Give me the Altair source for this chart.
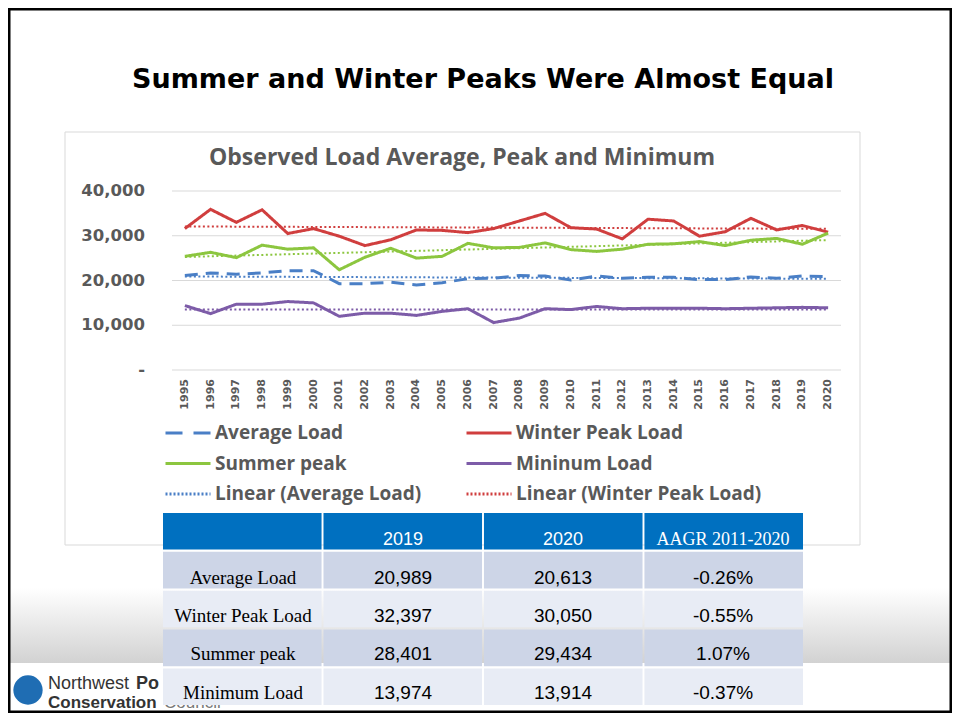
import altair as alt
import pandas as pd

# ---------------- data ----------------
years = list(range(1995, 2021))
average_load = [21100, 21700, 21400, 21700, 22200, 22200, 19300, 19300, 19600, 19000,
                19500, 20400, 20500, 21100, 21000, 20100, 21000, 20500, 20700, 20700,
                20200, 20200, 20800, 20500, 21000, 20900]
winter_peak = [31600, 35900, 33000, 35800, 30500, 31600, 29900, 27800, 29100, 31300,
               31200, 30700, 31600, 33300, 35000, 31800, 31500, 29300, 33700, 33300,
               29900, 30900, 33900, 31300, 32300, 30800]
summer_peak = [25400, 26300, 25100, 27900, 27000, 27300, 22400, 25200, 27200, 25000,
               25400, 28300, 27300, 27400, 28400, 26900, 26500, 27000, 28100, 28200,
               28700, 27800, 29000, 29400, 28100, 30600]
minimum_load = [14400, 12600, 14700, 14700, 15300, 15000, 12000, 12700, 12700, 12200,
                13100, 13700, 10600, 11600, 13700, 13500, 14200, 13700, 13800, 13800,
                13800, 13700, 13800, 13900, 14000, 13900]

series_names = ["Average Load", "Winter Peak Load", "Summer peak", "Mininum Load"]
series_colors = ["#4a7fc6", "#d03e3e", "#8cc63f", "#7d5ca8"]

y_ticks = [0, 10000, 20000, 30000, 40000]
y_tick_labels = ["-", "10,000", "20,000", "30,000", "40,000"]

legend_names = ["Average Load", "Winter Peak Load", "Summer peak", "Mininum Load",
                "Linear (Average Load)", "Linear (Winter Peak Load)"]
legend_colors = ["#4a7fc6", "#d03e3e", "#8cc63f", "#7d5ca8", "#4a7fc6", "#d03e3e"]

table_header = ["", "2019", "2020", "AAGR 2011-2020"]
table_rows = ["Average Load", "Winter Peak Load", "Summer peak", "Minimum Load"]
val_2019 = ["20,989", "32,397", "28,401", "13,974"]
val_2020 = ["20,613", "30,050", "29,434", "13,914"]
aagr = ["-0.26%", "-0.55%", "1.07%", "-0.37%"]

slide_title = "Summer and Winter Peaks Were Almost Equal"
chart_title = "Observed Load Average, Peak and Minimum"

# ---------------- frames ----------------
W, H = 944, 705
O = 8  # page margin: chart coord = page coord - 8

df = pd.DataFrame({
    "year": years * 4,
    "value": average_load + winter_peak + summer_peak + minimum_load,
    "series": sum([[s] * len(years) for s in series_names], []),
})

x_scale = alt.Scale(domain=[1994.5, 2020.5], range=[172 - O, 841 - O], nice=False, zero=False)
y_scale = alt.Scale(domain=[0, 40000], range=[370 - O, 191 - O], nice=False, zero=False)
col_scale = alt.Scale(domain=series_names, range=series_colors)
GREY = "#595959"

one = pd.DataFrame({"k": [0]})

frame = alt.Chart(one).mark_rect(fillOpacity=0, stroke="black", strokeWidth=3).encode(
    x=alt.value(1), x2=alt.value(W - 1), y=alt.value(1), y2=alt.value(H - 1))

band = alt.Chart(one).mark_rect(
    fill=alt.LinearGradient(gradient="linear",
                            stops=[alt.GradientStop(color="#ffffff", offset=0),
                                   alt.GradientStop(color="#d2d2d2", offset=1)],
                            x1=0, x2=0, y1=0, y2=1)
).encode(x=alt.value(0), x2=alt.value(W), y=alt.value(588 - O), y2=alt.value(663 - O))

box = alt.Chart(one).mark_rect(fill="white", stroke="#d9d9d9", strokeWidth=1).encode(
    x=alt.value(65 - O), x2=alt.value(860 - O), y=alt.value(132 - O), y2=alt.value(545 - O))

title1 = alt.Chart(pd.DataFrame({"t": [slide_title]})).mark_text(
    font="DejaVu Sans", fontWeight="bold", fontSize=27, color="black",
    align="center", baseline="middle").encode(
    x=alt.value(483 - O), y=alt.value(80 - O), text="t:N")

title2 = alt.Chart(pd.DataFrame({"t": [chart_title]})).mark_text(
    font="Open Sans", fontWeight="bold", fontSize=23, color=GREY,
    align="center", baseline="middle").encode(
    x=alt.value(462 - O), y=alt.value(158 - O), text="t:N")

grid_df = pd.DataFrame({"v": y_ticks, "lab": y_tick_labels})
grid = alt.Chart(grid_df).mark_rule(color="#d9d9d9", strokeWidth=1.2).encode(
    y=alt.Y("v:Q", scale=y_scale, axis=None),
    x=alt.X(datum=1994.5, type="quantitative", scale=x_scale, axis=None),
    x2=alt.X2(datum=2020.5))

ylabels = alt.Chart(grid_df).mark_text(
    font="DejaVu Sans", fontWeight="bold", fontSize=16.5, color=GREY,
    align="right", baseline="middle").encode(
    y=alt.Y("v:Q", scale=y_scale, axis=None), x=alt.value(145 - O), text="lab:N")

ydf = pd.DataFrame({"year": years, "lab": [str(y) for y in years]})
xlabels = alt.Chart(ydf).mark_text(
    font="DejaVu Sans", fontWeight="bold", fontSize=11, color=GREY,
    align="right", baseline="middle", angle=270).encode(
    x=alt.X("year:Q", scale=x_scale, axis=None), y=alt.value(379 - O), text="lab:N")

trend = alt.Chart(df).transform_regression(
    "year", "value", groupby=["series"]).mark_line(
    strokeWidth=2, strokeDash=[2, 2.5]).encode(
    x=alt.X("year:Q", scale=x_scale, axis=None),
    y=alt.Y("value:Q", scale=y_scale, axis=None),
    color=alt.Color("series:N", scale=col_scale, legend=None),
    detail="series:N")

lines = alt.Chart(df).mark_line(strokeWidth=3).encode(
    x=alt.X("year:Q", scale=x_scale, axis=None),
    y=alt.Y("value:Q", scale=y_scale, axis=None),
    color=alt.Color("series:N", scale=col_scale, legend=None),
    strokeDash=alt.StrokeDash("series:N", scale=alt.Scale(
        domain=series_names, range=[[13, 8], [1, 0], [1, 0], [1, 0]]), legend=None),
    detail="series:N")

# legend (manual)
leg_df = pd.DataFrame({"name": legend_names,
                       "col": [i % 2 for i in range(len(legend_names))],
                       "row": [i // 2 for i in range(len(legend_names))]})
lx = alt.X("col:Q", scale=alt.Scale(domain=[0, 1], range=[188 - O, 489 - O]), axis=None)
ly = alt.Y("row:Q", scale=alt.Scale(domain=[0, 2], range=[433 - O, 494 - O]), axis=None)
leg_sym = alt.Chart(leg_df).mark_point(shape="stroke", size=2025, filled=False, opacity=1).encode(
    x=lx, y=ly,
    color=alt.Color("name:N", scale=alt.Scale(domain=legend_names, range=legend_colors), legend=None),
    strokeDash=alt.StrokeDash("name:N", scale=alt.Scale(
        domain=legend_names, range=[[17, 11], [1, 0], [1, 0], [1, 0], [2, 2], [2, 2]]), legend=None),
    strokeWidth=alt.StrokeWidth("name:N", scale=alt.Scale(
        domain=legend_names, range=[3, 3, 3, 3, 1.5, 1.5]), legend=None))
leg_txt = alt.Chart(leg_df).mark_text(
    font="Open Sans", fontWeight="bold", fontSize=19, color=GREY,
    align="left", baseline="middle", dx=27).encode(x=lx, y=ly, text="name:N")

# logo
logo_c = alt.Chart(one).mark_point(shape="circle", filled=True, size=860, color="#1f6db3", opacity=1).encode(
    x=alt.value(28 - O), y=alt.value(690 - O))
logo_t1 = alt.Chart(pd.DataFrame({"t": ["Northwest"]})).mark_text(
    font="Liberation Sans", fontSize=18, color="#333333", align="left", baseline="middle").encode(
    x=alt.value(48 - O), y=alt.value(684 - O), text="t:N")
logo_t1b = alt.Chart(pd.DataFrame({"t": ["Power"]})).mark_text(
    font="Liberation Sans", fontWeight="bold", fontSize=18, color="#333333", align="left",
    baseline="middle", limit=30, ellipsis=" ").encode(
    x=alt.value(136 - O), y=alt.value(684 - O), text="t:N")
logo_t2 = alt.Chart(pd.DataFrame({"t": ["Conservation"]})).mark_text(
    font="Liberation Sans", fontWeight="bold", fontSize=17, color="#333333", align="left", baseline="middle").encode(
    x=alt.value(48 - O), y=alt.value(703 - O), text="t:N")
logo_t2b = alt.Chart(pd.DataFrame({"t": ["Council"]})).mark_text(
    font="Liberation Sans", fontSize=17, color="#777777", align="left", baseline="middle").encode(
    x=alt.value(164 - O), y=alt.value(703 - O), text="t:N")

# table
col_ids = ["c0", "c1", "c2", "c3"]
row_ids = ["h", "r1", "r2", "r3", "r4"]
cells = []
for j, h in enumerate(table_header):
    cells.append({"row": "h", "col": col_ids[j], "text": h, "kind": "head",
                  "serif": j == 3})
for i, name in enumerate(table_rows):
    kind = "dark" if i % 2 == 0 else "light"
    for j, t in enumerate([name, val_2019[i], val_2020[i], aagr[i]]):
        cells.append({"row": row_ids[i + 1], "col": col_ids[j], "text": t, "kind": kind,
                      "serif": j == 0})
cells = pd.DataFrame(cells)

tx = alt.X("col:N", scale=alt.Scale(domain=col_ids, range=[163 - O, 803 - O],
                                    paddingInner=0.012, paddingOuter=0), axis=None)
ty = alt.Y("row:N", scale=alt.Scale(domain=row_ids, range=[513 - O, 705 - O],
                                    paddingInner=0.06, paddingOuter=0), axis=None)
tbl = alt.Chart(cells).mark_rect().encode(
    x=tx, y=ty,
    color=alt.Color("kind:N", scale=alt.Scale(domain=["head", "dark", "light"],
                                              range=["#0070c0", "#cdd5e7", "#e8ecf5"]), legend=None))


def ttext(filt, font, size, color):
    return alt.Chart(cells).transform_filter(filt).mark_text(
        font=font, fontSize=size, color=color, align="center", baseline="bottom", dy=17).encode(
        x=tx, y=ty, text="text:N")


t_head_sans = ttext("datum.kind == 'head' && !datum.serif", "Liberation Sans", 18, "white")
t_head_serif = ttext("datum.kind == 'head' && datum.serif", "Liberation Serif", 18, "white")
t_body_sans = ttext("datum.kind != 'head' && !datum.serif", "Liberation Sans", 19, "black")
t_body_serif = ttext("datum.kind != 'head' && datum.serif", "Liberation Serif", 19, "black")

chart = alt.layer(
    band, box, frame, title1, title2, grid, ylabels, xlabels, lines, trend,
    leg_sym, leg_txt, logo_c, logo_t1, logo_t1b, logo_t2, logo_t2b,
    tbl, t_head_sans, t_head_serif, t_body_sans, t_body_serif
).resolve_scale(
    x="independent", y="independent", color="independent",
    strokeDash="independent", strokeWidth="independent"
).properties(
    width=W, height=H, padding=0, autosize=alt.AutoSizeParams(type="none")
).configure_view(stroke=None)

chart.save("out.html", embed_options={"renderer": "svg", "actions": False})
